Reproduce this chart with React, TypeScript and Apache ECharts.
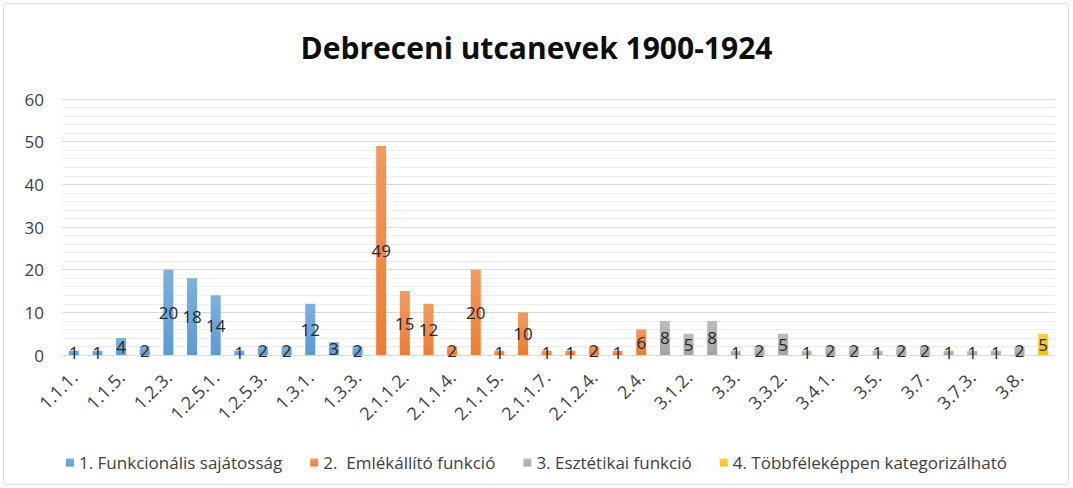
import React, { useEffect, useRef } from "react";
import * as echarts from "echarts";

const categories: string[] = [
  "1.1.1.", "1.1.4.", "1.1.5.", "1.2.2.", "1.2.3.", "1.2.5.", "1.2.5.1.", "1.2.5.2.", "1.2.5.3.", "1.2.6.",
  "1.3.1.", "1.3.2.", "1.3.3.", "2.1.1.1.", "2.1.1.2.", "2.1.1.3.", "2.1.1.4.", "2.1.1.4.1.", "2.1.1.5.", "2.1.1.6.",
  "2.1.1.7.", "2.1.2.", "2.1.2.4.", "2.2.", "2.4.", "3.1.1.", "3.1.2.", "3.2.", "3.3.", "3.3.1.",
  "3.3.2.", "3.4.", "3.4.1.", "3.4.2.", "3.5.", "3.6.", "3.7.", "3.7.2.", "3.7.3.", "3.7.4.",
  "3.8.", "4.",
];

const seriesNames: string[] = [
  "1. Funkcionális sajátosság",
  "2.  Emlékállító funkció",
  "3. Esztétikai funkció",
  "4. Többféleképpen kategorizálható",
];

const _ = null;
const funkcionalis: (number | null)[] = [
  1, 1, 4, 2, 20, 18, 14, 1, 2, 2, 12, 3, 2,
  _, _, _, _, _, _, _, _, _, _, _, _,
  _, _, _, _, _, _, _, _, _, _, _, _, _, _, _, _,
  _,
];
const emlekallito: (number | null)[] = [
  _, _, _, _, _, _, _, _, _, _, _, _, _,
  49, 15, 12, 2, 20, 1, 10, 1, 1, 2, 1, 6,
  _, _, _, _, _, _, _, _, _, _, _, _, _, _, _, _,
  _,
];
const eszteikai: (number | null)[] = [
  _, _, _, _, _, _, _, _, _, _, _, _, _,
  _, _, _, _, _, _, _, _, _, _, _, _,
  8, 5, 8, 1, 2, 5, 1, 2, 2, 1, 2, 2, 1, 1, 1, 2,
  _,
];
const tobbfele: (number | null)[] = [
  _, _, _, _, _, _, _, _, _, _, _, _, _,
  _, _, _, _, _, _, _, _, _, _, _, _,
  _, _, _, _, _, _, _, _, _, _, _, _, _, _, _, _,
  5,
];

const colors = ["#5B9BD5", "#ED7D31", "#A5A5A5", "#FFC000"];
const lighter = ["#7DB0E0", "#F29A5E", "#BDBDBD", "#FFD04A"];

const FONT = "'Open Sans', 'Noto Sans', sans-serif";

export default function App() {
  const ref = useRef<HTMLDivElement>(null);
  useEffect(() => {
    document.body.style.margin = "0";
    const chart = echarts.init(ref.current!, undefined, { renderer: "svg" });
    const datasets = [funkcionalis, emlekallito, eszteikai, tobbfele];
    chart.setOption({
      animation: false,
      backgroundColor: "#ffffff",
      title: {
        text: "Debreceni utcanevek 1900-1924",
        left: "center",
        top: 27,
        textStyle: { fontFamily: FONT, fontSize: 30, fontWeight: "bold", color: "#0d0d0d" },
      },
      graphic: [
        {
          type: "rect",
          shape: { x: 3.5, y: 3.5, width: 1065, height: 481, r: 3 },
          style: { fill: "none", stroke: "#D9D9D9", lineWidth: 1 },
          silent: true,
        },
      ],
      legend: {
        bottom: 12,
        left: "center",
        icon: "rect",
        itemWidth: 8,
        itemHeight: 8,
        itemGap: 28,
        textStyle: { fontFamily: FONT, fontSize: 17, color: "#404040" },
        data: seriesNames,
      },
      grid: { left: 62, right: 18, top: 99, bottom: 133, containLabel: false },
      xAxis: {
        type: "category",
        data: categories,
        axisLine: { lineStyle: { color: "#D9D9D9" } },
        axisTick: { show: false },
        axisLabel: {
          interval: 1,
          rotate: 45,
          fontFamily: FONT,
          fontSize: 18,
          color: "#404040",
          margin: 19,
        },
      },
      yAxis: {
        type: "value",
        min: 0,
        max: 60,
        interval: 10,
        axisLine: { show: false },
        axisTick: { show: false },
        axisLabel: { fontFamily: FONT, fontSize: 17, color: "#404040", margin: 18 },
        splitLine: { lineStyle: { color: "#D9D9D9", width: 1 } },
        minorTick: { show: false, splitNumber: 5 },
        minorSplitLine: { show: true, lineStyle: { color: "#EEEEEE", width: 1 } },
      },
      series: datasets.map((d, i) => ({
        name: seriesNames[i],
        type: "bar",
        stack: "all",
        barWidth: 10,
        data: d,
        itemStyle: {
          color: new echarts.graphic.LinearGradient(0, 0, 0, 1, [
            { offset: 0, color: lighter[i] },
            { offset: 1, color: colors[i] },
          ]),
        },
        label: {
          show: true,
          position: "inside",
          fontFamily: FONT,
          fontSize: 17,
          color: "#262626",
        },
      })),
      color: colors,
    });
    return () => chart.dispose();
  }, []);
  return <div ref={ref} style={{ position: "absolute", left: 0, top: 0, width: 1073, height: 488 }} />;
}
